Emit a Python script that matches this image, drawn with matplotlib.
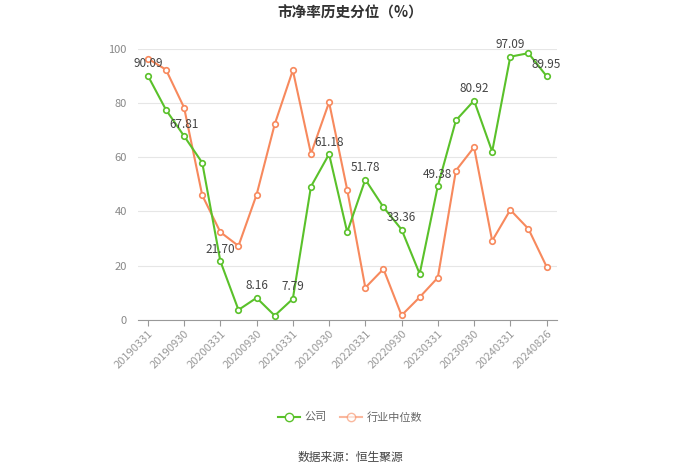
import matplotlib.pyplot as plt
from matplotlib.lines import Line2D

plt.rcParams['font.family'] = ['Noto Sans CJK SC', 'DejaVu Sans']

# 日期（季度）
dates = ['20190331', '20190630', '20190930', '20191231', '20200331', '20200630',
         '20200930', '20201231', '20210331', '20210630', '20210930', '20211231',
         '20220331', '20220630', '20220930', '20221231', '20230331', '20230630',
         '20230930', '20231231', '20240331', '20240630', '20240826']

# 公司
company = [90.09, 77.5, 67.81, 58.0, 21.70, 3.7, 8.16, 1.6, 7.79, 49.2, 61.18, 32.4,
           51.78, 41.6, 33.36, 17.0, 49.38, 73.6, 80.92, 62.1, 97.09, 98.4, 89.95]

# 行业中位数
industry = [96.4, 92.3, 78.3, 46.0, 32.4, 27.3, 46.2, 72.2, 92.1, 61.3, 80.3, 48.0,
            11.9, 18.8, 1.7, 8.4, 15.6, 55.1, 63.7, 29.2, 40.6, 33.6, 19.7]

green = '#5ac12a'
orange = '#f7895d'

fig = plt.figure(figsize=(7.0, 4.74), dpi=100)
ax = fig.add_axes([0.197, 0.325, 0.598, 0.572])

x = list(range(len(dates)))
ax.plot(x, company, color=green, lw=1.5, marker='o', ms=4,
        mfc='white', mec=green, mew=1.2, zorder=3)
ax.plot(x, industry, color=orange, lw=1.5, marker='o', ms=4,
        mfc='white', mec=orange, mew=1.2, zorder=2)

# 数据标签（每隔一个点）
for i in range(0, len(dates), 2):
    ax.annotate(f'{company[i]:.2f}', (x[i], company[i]), xytext=(0, 4),
                textcoords='offset points', ha='center', va='bottom',
                fontsize=8.5, color='#444444', zorder=4)

ax.set_xlim(-0.55, len(dates) - 0.45)
ax.set_ylim(0, 100)
ax.set_yticks([0, 20, 40, 60, 80, 100])
ax.set_xticks(x[::2])
ax.set_xticklabels(dates[::2], rotation=45, ha='right', rotation_mode='anchor')

ax.grid(axis='y', color='#e6e6e6', lw=0.8)
ax.set_axisbelow(True)
for s in ['top', 'right', 'left']:
    ax.spines[s].set_visible(False)
ax.spines['bottom'].set_color('#999999')
ax.tick_params(axis='y', length=0, labelsize=8, colors='#888888', pad=8)
ax.tick_params(axis='x', length=4, color='#999999', labelsize=8,
               colors='#999999', pad=2)

fig.text(0.5, 0.974, '市净率历史分位（%）', ha='center', va='center',
         fontsize=10.5, fontweight='bold', color='#333333')

handles = [Line2D([], [], color=green, lw=1.5, marker='o', ms=6, mfc='white', mec=green),
           Line2D([], [], color=orange, lw=1.5, marker='o', ms=6, mfc='white', mec=orange, alpha=0.6)]
fig.legend(handles, ['公司', '行业中位数'], loc='center', bbox_to_anchor=(0.5, 0.12),
           ncol=2, frameon=False, fontsize=8, labelcolor='#666666',
           handlelength=2.0, columnspacing=1.2, handletextpad=0.4)

fig.text(0.5, 0.034, '数据来源：恒生聚源', ha='center', va='center',
         fontsize=8.5, color='#444444')

fig.savefig('out.png', dpi=100)
